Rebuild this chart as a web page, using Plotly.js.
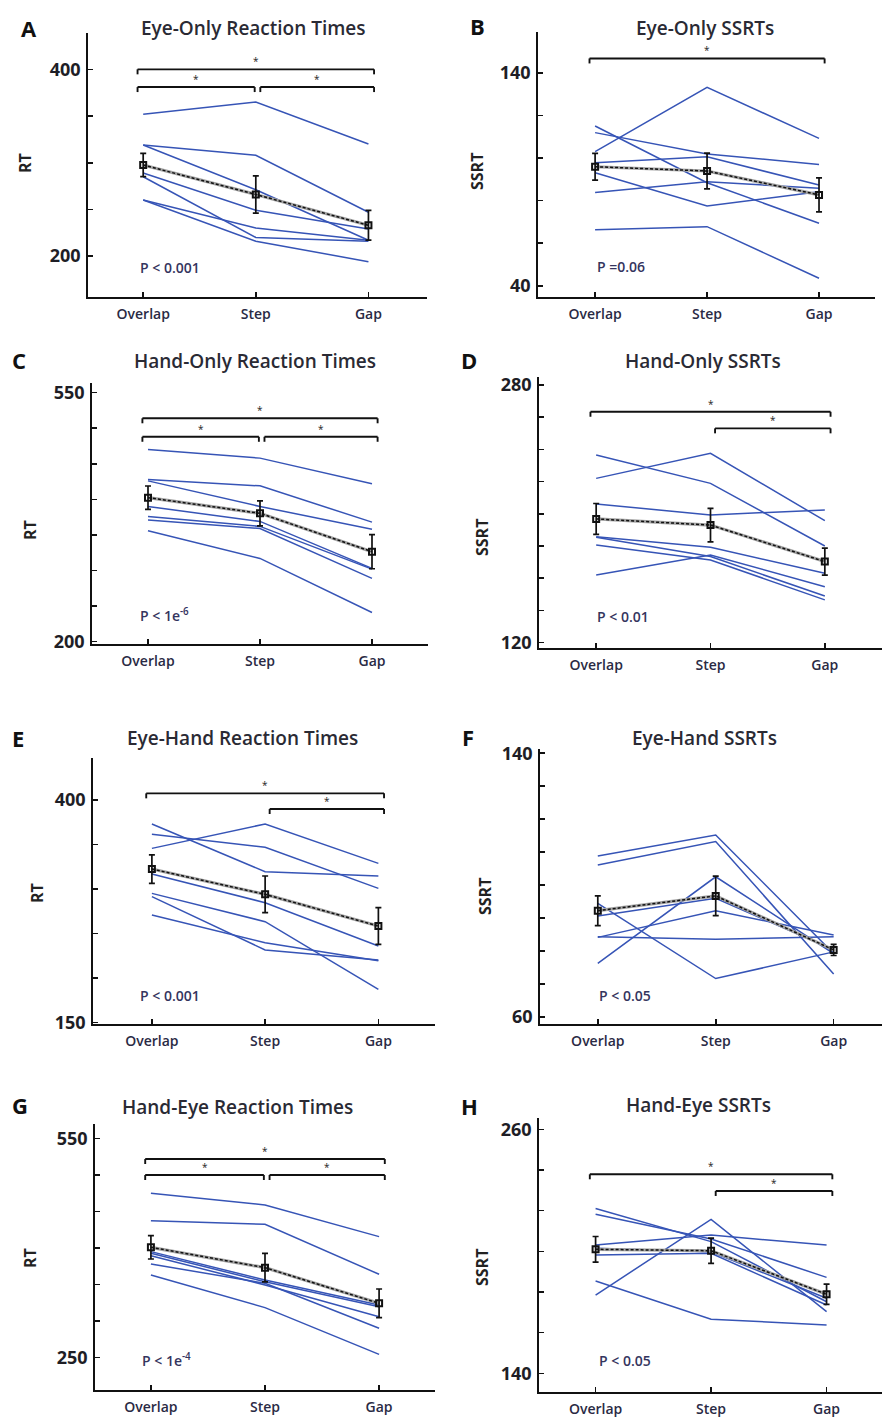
<!DOCTYPE html>
<html><head><meta charset="utf-8">
<script src="https://cdn.plot.ly/plotly-3.0.1.min.js"></script>
<style>html,body{margin:0;padding:0;background:#fff;} #chart{width:884px;height:1419px;}</style>
</head><body><div id="chart"></div>
<script>
// ---------------- DATA ----------------
const categories = ['Overlap', 'Step', 'Gap'];

// A: Eye-Only Reaction Times
const A_subjects = [[352,365,320],[319,308,247],[319,271,217],[289,249,229],[285,220,216],[260,230,217],[260,216,194]];
const A_mean = [297.5, 266, 233];
const A_err = [12.5, 20, 16];
const A_brackets = [[0,2,400],[0,1,381],[1,2,381]];
const A_p = 'P < 0.001';

// B: Eye-Only SSRTs
const B_subjects = [[103,133.1,109.2],[115,88.4,69.4],[111.9,101.9,97],[97.8,100.6,87.3],[93.1,77.5,84.2],[83.8,88.9,85.8],[66.3,67.8,43.6]];
const B_mean = [95.9, 93.9, 82.7];
const B_err = [6.3, 8.4, 8];
const B_brackets = [[0,2,146.7]];
const B_p = 'P =0.06';

// C: Hand-Only Reaction Times
const C_subjects = [[470,458,422],[428,419,368],[426,390,358],[390,369,303],[376,362,302],[371,359,289],[356,317,241]];
const C_mean = [402.4, 380.4, 326.5];
const C_err = [16.4, 17.6, 24];
const C_brackets = [[0,2,514],[0,1,488],[1,2,488]];
const C_p = 'P < 1e<sup>-6</sup>';

// D: Hand-Only SSRTs
const D_subjects = [[236.5,218.9,180],[222,237.6,195.7],[206.1,199.3,202.4],[185.8,179.2,163],[185.4,173.4,148.9],[180.6,171.3,146.5],[162,174.4,154.7]];
const D_mean = [196.8, 193, 170.3];
const D_err = [9.6, 10.4, 8.4];
const D_brackets = [[0,2,263.4],[1,2,253.1]];
const D_p = 'P < 0.01';

// E: Eye-Hand Reaction Times
const E_subjects = [[345.7,373.1,328.9],[361.5,346.9,300.8],[373.1,319.5,314.7],[316.9,284.7,236.1],[295.2,263.4,187.4],[291.5,231.6,220.4],[270.9,239.8,219.6]];
const E_mean = [322.5, 294.1, 258.5];
const E_err = [16, 20.6, 20.6];
const E_brackets = [[0,2,407.5],[1,2,389.9]];
const E_p = 'P < 0.001';

// F: Eye-Hand SSRTs
const F_subjects = [[108.8,115.2,79.2],[106.1,113.2,73],[94.4,71.6,79.7],[90.6,96,80.3],[84.3,83.5,84.3],[84.1,92.2,84.8],[76.2,102.5,79.2]];
const F_mean = [92.2, 96.7, 80.3];
const F_err = [4.5, 6, 1.7];
const F_brackets = [];
const F_p = 'P < 0.05';

// G: Hand-Eye Reaction Times
const G_subjects = [[474.8,458.8,415.5],[437.4,432.4,364],[395,356.2,322],[392.7,353.9,319.7],[389.5,349.4,306],[378.1,351.6,290.1],[363,318.4,254.5]];
const G_mean = [400.9, 373.1, 324.3];
const G_err = [16, 19.4, 19.6];
const G_brackets = [[0,2,521.7],[0,1,499.8],[1,2,499.8]];
const G_p = 'P < 1e<sup>-4</sup>';

// H: Hand-Eye SSRTs
const H_subjects = [[178.5,215.7,170.3],[185.4,166.6,163.8],[203.1,208,203.1],[221.1,204.8,175.2],[218.2,206.1,187.2],[201.5,199.8,176.9],[198.2,199,173.6]];
const H_mean = [201, 200.3, 178.9];
const H_err = [6.3, 6.2, 5];
const H_brackets = [[0,2,237.9],[1,2,229.7]];
const H_p = 'P < 0.05';

const titles = ['Eye-Only Reaction Times','Eye-Only SSRTs','Hand-Only Reaction Times','Hand-Only SSRTs',
                'Eye-Hand Reaction Times','Eye-Hand SSRTs','Hand-Eye Reaction Times','Hand-Eye SSRTs'];
const letters = ['A','B','C','D','E','F','G','H'];
const yLabels = ['RT','SSRT','RT','SSRT','RT','SSRT','RT','SSRT'];
const yTickRanges = [[200,400,50],[40,140,20],[200,550,50],[120,280,20],[150,400,50],[60,140,10],[250,550,50],[140,260,20]];

// ---------------- GEOMETRY / STYLE ----------------
const W = 884, H = 1419;
const geom = [
 {xd:[88,427],  yd:[33,297],   xr:[-0.49,2.52], yr:[156.2,438.9], tt:[254,28],  lt:[29,28],   ya:[25,163],  pp:[138,267]},
 {xd:[538,875], yd:[32,297],   xr:[-0.51,2.50], yr:[34.8,159.1],  tt:[705,28],  lt:[478,26],  ya:[477,172], pp:[595,266]},
 {xd:[92,428],  yd:[383,644],  xr:[-0.50,2.50], yr:[196.7,563.6], tt:[255,361], lt:[19,360],  ya:[30,530],  pp:[138,615]},
 {xd:[539,882], yd:[377,648],  xr:[-0.50,2.50], yr:[116.6,285],   tt:[703,361], lt:[469,360], ya:[482,537], pp:[595,616]},
 {xd:[93,435],  yd:[758,1024], xr:[-0.52,2.50], yr:[148.5,447.2], tt:[242,738], lt:[18,738],  ya:[37,893],  pp:[138,996]},
 {xd:[540,882], yd:[749,1024], xr:[-0.49,2.41], yr:[57.8,141.3],  tt:[704,738], lt:[468,737], ya:[485,897], pp:[597,995]},
 {xd:[95,435],  yd:[1124,1390],xr:[-0.49,2.49], yr:[205.7,569.6], tt:[237,1107],lt:[20,1105], ya:[30,1258], pp:[140,1360]},
 {xd:[539,882], yd:[1118,1392],xr:[-0.49,2.48], yr:[130.8,265.6], tt:[698,1105],lt:[469,1106],ya:[482,1267],pp:[597,1360]}
];

const panelData = [
 [A_subjects,A_mean,A_err,A_brackets,A_p],
 [B_subjects,B_mean,B_err,B_brackets,B_p],
 [C_subjects,C_mean,C_err,C_brackets,C_p],
 [D_subjects,D_mean,D_err,D_brackets,D_p],
 [E_subjects,E_mean,E_err,E_brackets,E_p],
 [F_subjects,F_mean,F_err,F_brackets,F_p],
 [G_subjects,G_mean,G_err,G_brackets,G_p],
 [H_subjects,H_mean,H_err,H_brackets,H_p]
];

const FONT = 'Open Sans, Lato, DejaVu Sans, sans-serif';
const BLUE = '#3654b6';
const px = x => x / W;
const py = y => 1 - y / H;

const traces = [];
const layout = {
  width: W, height: H,
  margin: {l:0, r:0, t:0, b:0},
  paper_bgcolor: '#fff', plot_bgcolor: 'rgba(0,0,0,0)',
  showlegend: false,
  font: {family: FONT, color: '#222'},
  annotations: [], shapes: []
};

panelData.forEach((pd, i) => {
  const [subj, mean, err, brackets, pText] = pd;
  const g = geom[i];
  const s = i === 0 ? '' : String(i + 1);
  const xa = 'x' + s, ya = 'y' + s;

  subj.forEach(row => traces.push({
    x: categories, y: row, xaxis: xa, yaxis: ya, type: 'scatter', mode: 'lines',
    line: {color: BLUE, width: 1.5}, hoverinfo: 'skip', cliponaxis: false
  }));
  traces.push({x: categories, y: mean, xaxis: xa, yaxis: ya, type: 'scatter', mode: 'lines',
    line: {color: '#a4a4a4', width: 3.2}, hoverinfo: 'skip'});
  traces.push({x: categories, y: mean, xaxis: xa, yaxis: ya, type: 'scatter', mode: 'lines+markers',
    line: {color: '#111', width: 1.5, dash: '3px,2px'},
    marker: {symbol: 'square-open', size: 6, color: '#111', line: {width: 2, color: '#111'}},
    error_y: {type: 'data', array: err, visible: true, color: '#111', thickness: 1.7, width: 3},
    hoverinfo: 'skip'});

  const [t0, t1, dt] = yTickRanges[i];
  const tv = [], tt = [];
  for (let v = t0; v <= t1 + 1e-9; v += dt) { tv.push(v); tt.push((v === t0 || v >= t1 - 1e-9) ? String(v) : ''); }

  layout['xaxis' + s] = {
    domain: [px(g.xd[0]), px(g.xd[1])], range: g.xr, type: 'category', anchor: ya,
    showline: true, linecolor: '#111', linewidth: 1.8, ticks: 'inside', ticklen: 5, tickwidth: 1.6, tickcolor: '#111',
    showgrid: false, zeroline: false, tickfont: {family: FONT, size: 14, color: '#2a2a44', weight: 600}, ticklabelstandoff: 3,
    fixedrange: true
  };
  layout['yaxis' + s] = {
    domain: [py(g.yd[1]), py(g.yd[0])], range: g.yr, anchor: xa,
    tickvals: tv, ticktext: tt,
    showline: true, linecolor: '#111', linewidth: 1.8, ticks: 'inside', ticklen: 5, tickwidth: 1.6, tickcolor: '#111',
    showgrid: false, zeroline: false, tickfont: {family: FONT, size: 18, color: '#1e1e26', weight: 700},
    ticklabelstandoff: 2, fixedrange: true
  };

  // brackets
  const tickLen = 5 * (g.yr[1] - g.yr[0]) / (g.yd[1] - g.yd[0]);
  brackets.forEach(b => {
    const [i0, i1, y] = b;
    const x0 = i0 === 0 ? -0.05 : i0 + 0.04;
    const x1 = i1 === 2 ? 2.05 : i1 - 0.01;
    const ln = {color: '#111', width: 1.9};
    layout.shapes.push({type: 'line', xref: xa, yref: ya, x0: x0, x1: x1, y0: y, y1: y, line: ln});
    layout.shapes.push({type: 'line', xref: xa, yref: ya, x0: x0, x1: x0, y0: y, y1: y - tickLen, line: ln});
    layout.shapes.push({type: 'line', xref: xa, yref: ya, x0: x1, x1: x1, y0: y, y1: y - tickLen, line: ln});
    layout.annotations.push({xref: xa, yref: ya, x: (x0 + x1) / 2, y: y, yshift: 8, text: '*', showarrow: false,
      font: {family: FONT, size: 10, color: '#222'}});
  });

  // texts
  layout.annotations.push({xref: 'paper', yref: 'paper', x: px(g.tt[0]), y: py(g.tt[1]), text: titles[i],
    showarrow: false, xanchor: 'center', yanchor: 'middle', font: {family: FONT, size: 19, color: '#2a2a34', weight: 600}});
  layout.annotations.push({xref: 'paper', yref: 'paper', x: px(g.lt[0]), y: py(g.lt[1]), text: '<b>' + letters[i] + '</b>',
    showarrow: false, xanchor: 'center', yanchor: 'middle', font: {family: FONT, size: 22, color: '#111'}});
  layout.annotations.push({xref: 'paper', yref: 'paper', x: px(g.ya[0]), y: py(g.ya[1]), text: yLabels[i], textangle: -90,
    showarrow: false, xanchor: 'center', yanchor: 'middle', font: {family: FONT, size: 16, color: '#222', weight: 700}});
  layout.annotations.push({xref: 'paper', yref: 'paper', x: px(g.pp[0]), y: py(g.pp[1]), text: pText,
    showarrow: false, xanchor: 'left', yanchor: 'middle', font: {family: FONT, size: 14, color: '#34345e', weight: 600}});
});

Plotly.newPlot('chart', traces, layout, {staticPlot: true, displayModeBar: false});
</script>
</body></html>
